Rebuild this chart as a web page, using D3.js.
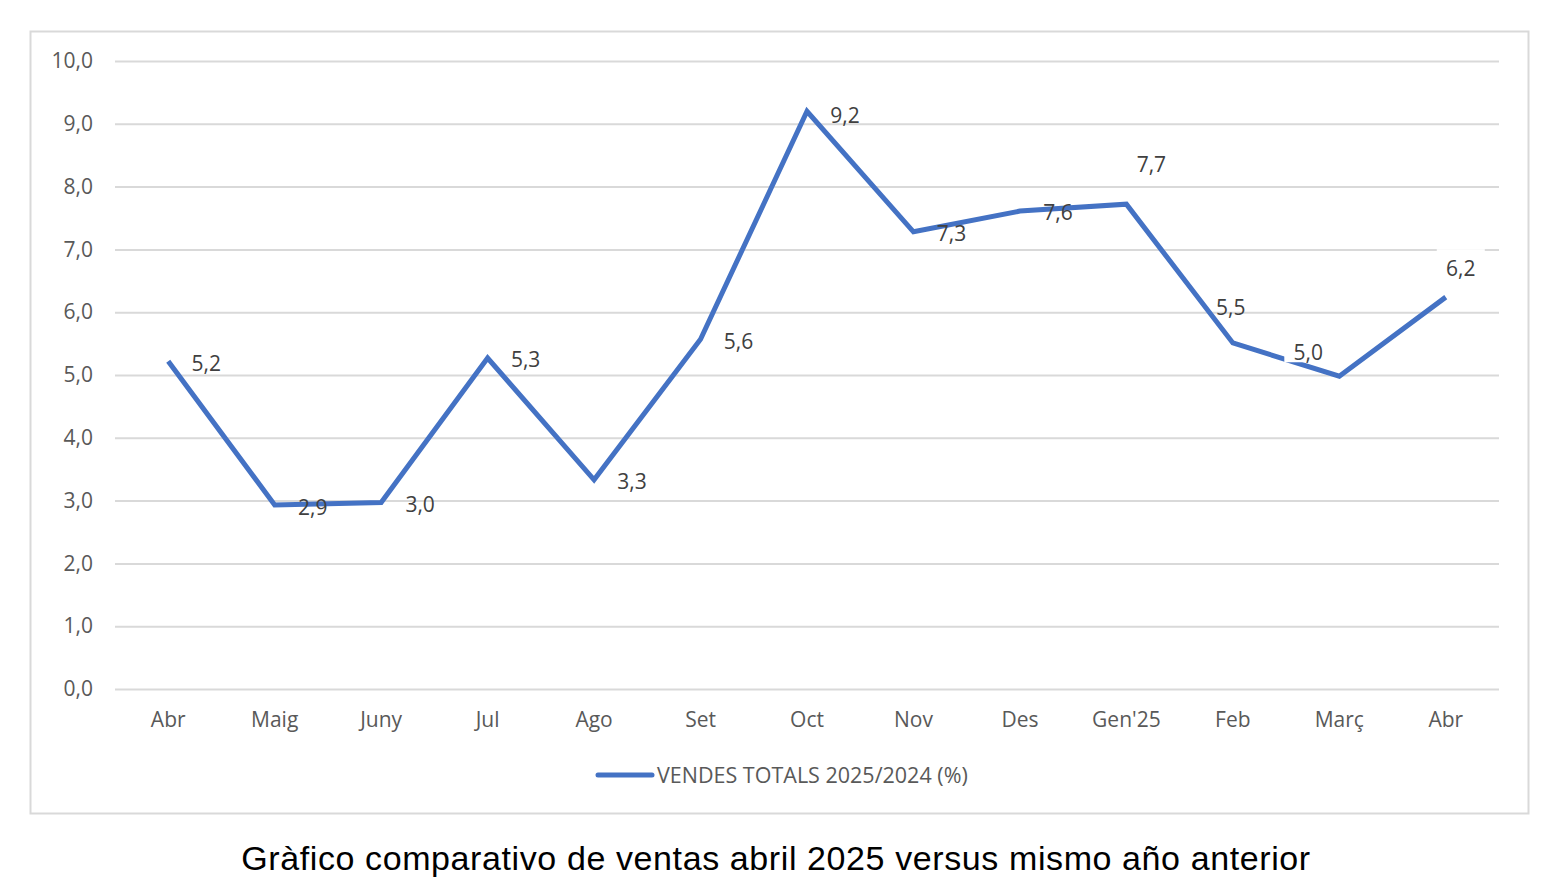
<!DOCTYPE html>
<html><head><meta charset="utf-8">
<script src="https://cdn.jsdelivr.net/npm/d3@7"></script>
<style>
html,body{margin:0;padding:0;background:#fff;}
svg{display:block;}
</style></head>
<body>
<svg id="chart" width="1564" height="888"></svg>
<script>
const categories = ["Abr","Maig","Juny","Jul","Ago","Set","Oct","Nov","Des","Gen'25","Feb","Març","Abr"];
const values = [5.22, 2.93, 2.97, 5.27, 3.33, 5.57, 9.2, 7.28, 7.61, 7.72, 5.51, 4.98, 6.24];
const yTicks = [0,1,2,3,4,5,6,7,8,9,10];
const seriesName = "VENDES TOTALS 2025/2024 (%)";
const title = "Gràfico comparativo de ventas abril 2025 versus mismo año anterior";
// label offsets (dx, dy) relative to each point, mimicking Excel placement
const labelOffsets = [[38,2],[38,3],[39,2],[38,2],[38,2],[38,2],[38,4],[38,2],[38,2],[25,-40],[-2,-35],[-31,-24],[15,-28]];
const labelBoxed = [false,false,false,false,false,false,false,false,false,false,false,true,true];

const svg = d3.select("#chart");
const font = "'Open Sans', sans-serif";

// frame
svg.append("rect").attr("x",30.5).attr("y",31.5).attr("width",1498).attr("height",782)
  .attr("fill","#fff").attr("stroke","#d9d9d9").attr("stroke-width",2);

const x = d3.scaleBand().domain(d3.range(categories.length)).range([115,1499]).padding(0);
const y = d3.scaleLinear().domain([0,10]).range([689,61]);
const fmt = v => d3.format(".1f")(v).replace(".",",");

// grid
const yAxis = d3.axisLeft(y).tickValues(yTicks).tickSize(-(1499-115)).tickFormat(fmt).tickPadding(22);
const gy = svg.append("g").attr("transform","translate(115,0)").call(yAxis);
gy.select(".domain").remove();
gy.selectAll(".tick line").attr("stroke","#d9d9d9").attr("stroke-width",2);
gy.selectAll(".tick text").attr("fill","#595959").attr("font-family",font).attr("font-size",21);

// x axis labels
const xAxis = d3.axisBottom(x).tickFormat(i => categories[i]).tickSize(0).tickPadding(23);
const gx = svg.append("g").attr("transform","translate(0,689)").call(xAxis);
gx.select(".domain").remove();
gx.selectAll(".tick text").attr("fill","#595959").attr("font-family",font).attr("font-size",21);

// line
const cx = i => x(i) + x.bandwidth()/2;
const line = d3.line().x((d,i)=>cx(i)).y(d=>y(d));
svg.append("path").datum(values).attr("d",line).attr("fill","none")
  .attr("stroke","#4472c4").attr("stroke-width",5).attr("stroke-linejoin","miter");

// labels
const lg = svg.append("g");
values.forEach((v,i)=>{
  const lx = cx(i)+labelOffsets[i][0], ly = y(v)+labelOffsets[i][1];
  if (labelBoxed[i]) {
    lg.append("rect").attr("x",lx-24).attr("y",ly-20).attr("width",48).attr("height",30).attr("fill","#fff");
  }
  lg.append("text").attr("x",lx).attr("y",ly).attr("dy","0.35em").attr("text-anchor","middle")
    .attr("fill","#404040").attr("font-family",font).attr("font-size",21).text(fmt(v));
});

// legend
svg.append("line").attr("x1",598).attr("x2",652).attr("y1",775).attr("y2",775)
  .attr("stroke","#4472c4").attr("stroke-width",5).attr("stroke-linecap","round");
svg.append("text").attr("x",657).attr("y",775).attr("dy","0.35em").attr("fill","#595959")
  .attr("font-family",font).attr("font-size",21.5).text(seriesName);

// title
svg.append("text").attr("x",776).attr("y",858).attr("dy","0.35em").attr("text-anchor","middle")
  .attr("fill","#000").attr("font-family","'Liberation Sans', Arial, sans-serif").attr("font-size",34)
  .attr("letter-spacing",0.6).text(title);
</script>
</body></html>
